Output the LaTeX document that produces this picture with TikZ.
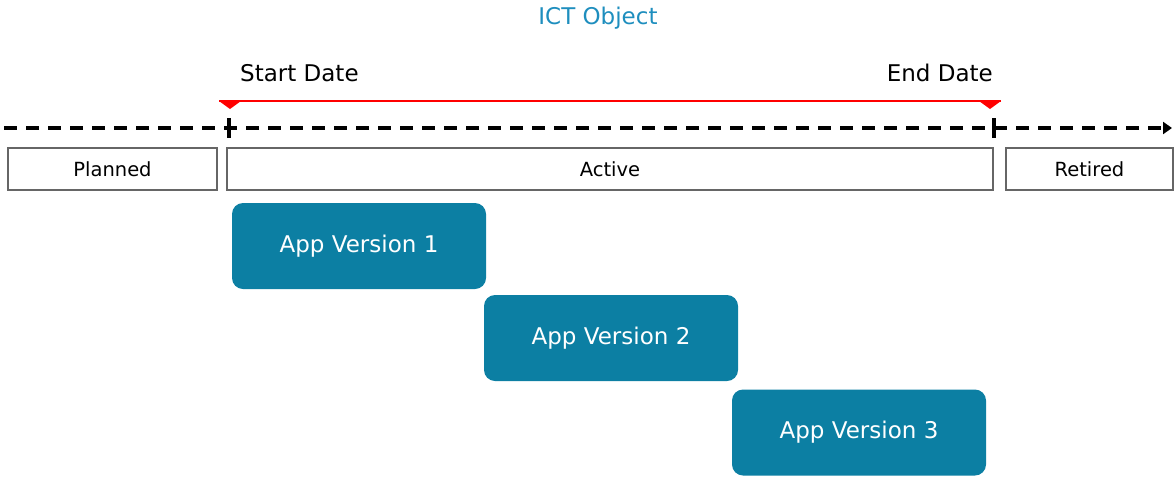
\documentclass[tikz,border=0pt]{standalone}
\usepackage{fontspec}
\setmainfont{DejaVu Sans}
\usetikzlibrary{arrows.meta}
\definecolor{teal1}{RGB}{12,127,163}
\definecolor{titleblue}{RGB}{30,142,190}
\begin{document}
\begin{tikzpicture}[x=1pt,y=-1pt,
  phase/.style={draw=black!60, line width=1.3pt, minimum height=42pt, inner sep=0pt, font=\fontsize{19.5}{22}\selectfont},
  appbox/.style={fill=teal1, rounded corners=11pt, minimum width=254pt, minimum height=86pt, inner sep=0pt, text=white, font=\fontsize{23}{26}\selectfont},
  lbl/.style={font=\fontsize{23}{26}\selectfont, inner sep=0pt},
  tick/.style={line width=4pt}]
\useasboundingbox (0,0) rectangle (1175,477);
\node[lbl, text=titleblue] (title) at (598,18) {ICT Object};
\node[lbl, anchor=west] (start) at (240,73) {Start Date};
\node[lbl, anchor=east] (end) at (993,73) {End Date};
\coordinate (rl) at (219,101);
\coordinate (rr) at (1001,101);
\draw[red, line width=1.4pt] (rl) -- (rr);
\fill[red] (219,101) -- (241,101) -- (230,109) -- cycle;
\fill[red] (979,101) -- (1001,101) -- (990,109) -- cycle;
\coordinate (dl) at (4,128);
\coordinate (dr) at (1172,128);
\draw[line width=3.4pt, dash pattern=on 13pt off 9pt, -{Triangle[length=9pt,width=12pt]}] (dl) -- (dr);
\draw[tick] (229,118) -- (229,138);
\draw[tick] (994,118) -- (994,138);
\node[phase, minimum width=209pt] (planned) at (112.5,169) {Planned};
\node[phase, minimum width=766pt] (active) at (610,169) {Active};
\node[phase, minimum width=167pt] (retired) at (1089.5,169) {Retired};
\node[appbox] (v1) at (359,246) {App Version 1};
\node[appbox] (v2) at (611,338) {App Version 2};
\node[appbox] (v3) at (859,432.5) {App Version 3};
\end{tikzpicture}
\end{document}
